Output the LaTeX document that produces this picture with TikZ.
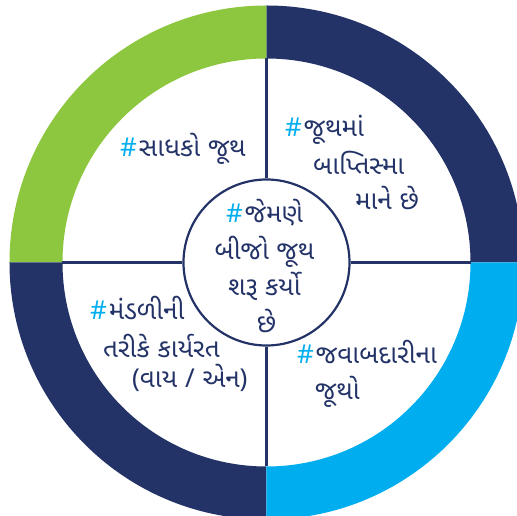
\documentclass[tikz,border=0pt]{standalone}
\usepackage{fontspec}
\setmainfont{Noto Sans}
\newfontfamily\gujfont[Script=Gujarati]{Noto Sans Gujarati UI}
\definecolor{ringnavy}{HTML}{233367}
\definecolor{ringgreen}{HTML}{8DC63F}
\definecolor{ringblue}{HTML}{00AEEF}
\newcommand{\hashtag}{{\color{ringblue}\normalfont\#}\kern2pt}
\newcommand{\lat}[1]{{\normalfont #1}}
\tikzset{
  gujlabel/.style={inner sep=0pt, anchor=base west, text=ringnavy,
    font=\fontsize{26}{37}\gujfont},
  hublabel/.style={gujlabel, anchor=base},
  divider/.style={ringnavy, line width=2.2pt}
}
\begin{document}
\begin{tikzpicture}[x=1pt,y=1pt]
  \useasboundingbox (-266.5,-253.5) rectangle (250.5,262.5);
  \clip (-266.5,-253.5) rectangle (250.5,262.5);
  % coloured ring, one quarter at a time
  \foreach \a/\col in {0/ringnavy,90/ringgreen,180/ringnavy,270/ringblue}
    \fill [\col] (\a:257) arc [start angle=\a, end angle=\a+90, radius=257]
      -- (\a+90:204) arc [start angle=\a+90, end angle=\a, radius=204] -- cycle;
  % hub and dividers
  \node [circle, draw=ringnavy, line width=2.2pt, minimum size=166pt, inner sep=0pt] (hub) at (0,0) {};
  \coordinate (ringN) at (90:204);
  \coordinate (ringW) at (180:204);
  \coordinate (ringS) at (270:204);
  \coordinate (ringE) at (0:204);
  \draw [divider] (hub.north) -- (ringN);
  \draw [divider] (hub.west) -- (ringW);
  \draw [divider] (hub.south) -- (ringS);
  \draw [divider] (hub.east) -- (ringE);
  % top left
  \node [gujlabel] (seek) at (-146.5,105.5) {\hashtag સાધકો જૂથ};
  % top right
  \node [gujlabel] (bapt1) at (18.5,125.5) {\hashtag જૂથમાં};
  \node [gujlabel] (bapt2) at (46.5,87.5) {બાપ્તિસ્મા};
  \node [gujlabel] (bapt3) at (88.5,52.5) {માને છે};
  % centre
  \node [hublabel] (hub1) at (-2,39.5) {\hashtag જેમણે};
  \node [hublabel] (hub2) at (-2,2.5) {બીજો જૂથ};
  \node [hublabel] (hub3) at (-2,-33.5) {શરૂ કર્યો};
  \node [hublabel] (hub4) at (0,-70.5) {છે};
  % bottom left
  \node [gujlabel] (cong1) at (-176.5,-57.5) {\hashtag મંડળીની};
  \node [gujlabel] (cong2) at (-163.5,-95.5) {તરીકે કાર્યરત};
  \node [gujlabel] (cong3) at (-134.5,-125.5) {\lat{(}વાય \lat{/} એન\lat{)}};
  % bottom right
  \node [gujlabel] (resp1) at (30.5,-101.5) {\hashtag જવાબદારીના};
  \node [gujlabel] (resp2) at (48.5,-137.5) {જૂથો};
\end{tikzpicture}
\end{document}
